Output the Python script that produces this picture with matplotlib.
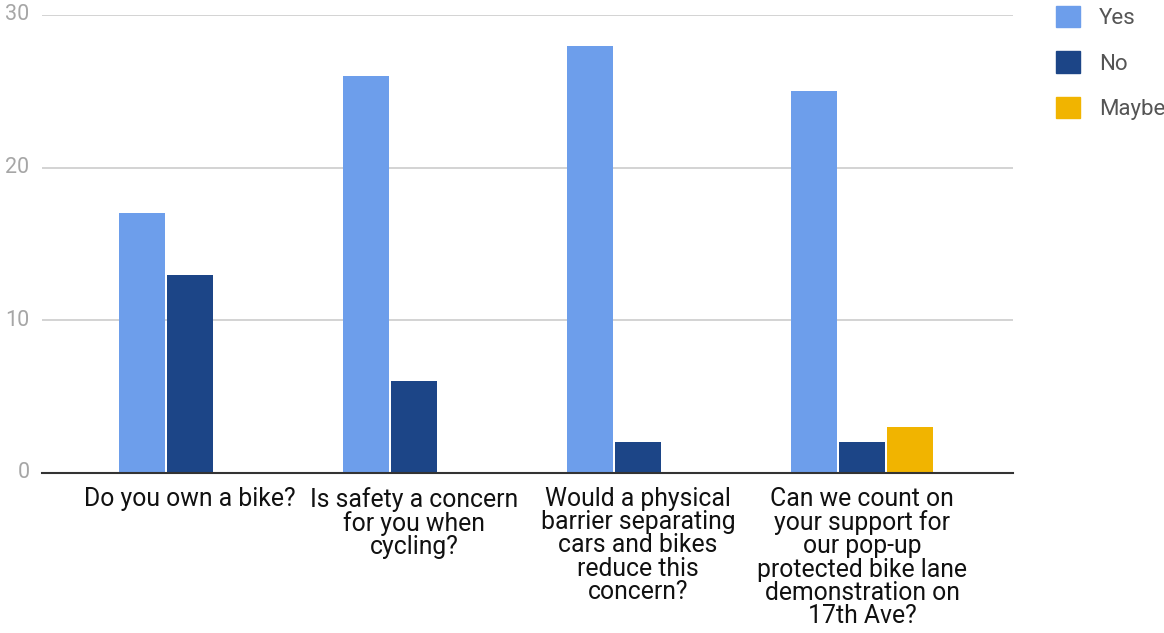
import matplotlib.pyplot as plt
import numpy as np

plt.rcParams['font.family'] = ['Roboto', 'DejaVu Sans']

questions = [
    "Do you own a bike?",
    "Is safety a concern\nfor you when\ncycling?",
    "Would a physical\nbarrier separating\ncars and bikes\nreduce this\nconcern?",
    "Can we count on\nyour support for\nour pop-up\nprotected bike lane\ndemonstration on\n17th Ave?",
]
yes = [17, 26, 28, 25]
no = [13, 6, 2, 2]
maybe = [0, 0, 0, 3]
series_names = ["Yes", "No", "Maybe"]
colors = ["#6d9eeb", "#1c4587", "#f1b400"]
y_ticks = [0, 10, 20, 30]

fig = plt.figure(figsize=(11.64, 6.33), dpi=100)
ax = fig.add_axes([42 / 1164, 160 / 633, 971 / 1164, 458 / 633])

slot = 0.214
width = 0.205
x = np.arange(len(questions))
for k, (vals, name, col) in enumerate(zip([yes, no, maybe], series_names, colors)):
    pos = x + (k - 1) * slot
    ax.bar(pos, vals, width=width, color=col, label=name, zorder=3)

ax.set_xlim(-0.661, 3.674)
ax.set_ylim(0, 30)
ax.set_yticks(y_ticks)
ax.set_yticklabels([str(t) for t in y_ticks])
ax.tick_params(axis='y', length=0, colors='#a6a6a6', labelsize=15.5, pad=9)
ax.set_xticks(x)
ax.set_xticklabels(questions, fontsize=17.8, color='#111111', linespacing=0.96)
ax.tick_params(axis='x', length=0, pad=10)
ax.grid(axis='y', color='#cccccc', linewidth=1.2, zorder=0)
for s in ['top', 'right', 'left']:
    ax.spines[s].set_visible(False)
ax.spines['bottom'].set_color('#333333')
ax.spines['bottom'].set_linewidth(1.5)
ax.spines['bottom'].set_zorder(4)
for lbl in ax.get_yticklabels():
    lbl.set_verticalalignment('center')

# legend on the right
handles = [plt.Rectangle((0, 0), 1, 1, color=c) for c in colors]
fig.legend(handles, series_names, loc='upper left', bbox_to_anchor=(1047 / 1164, 1 + 3 / 633),
           frameon=False, fontsize=16, labelcolor='#555555', handlelength=1.1, handleheight=1.1,
           handletextpad=0.85, labelspacing=1.0, borderaxespad=0)

fig.savefig("out.png", dpi=100)
